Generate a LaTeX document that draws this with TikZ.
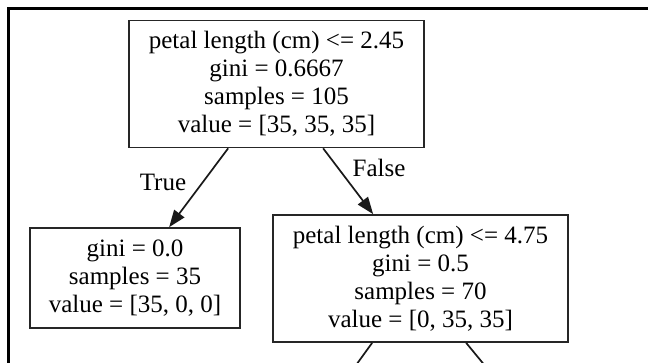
\documentclass[tikz,border=0pt]{standalone}
\usepackage{fontspec}
\setmainfont{Liberation Serif}
\usetikzlibrary{arrows.meta,calc}
\begin{document}
\begin{tikzpicture}[x=1pt,y=-1pt,
  treebox/.style={draw=black!85,line width=1.7pt,rectangle,inner sep=0pt,
    align=center,font=\fontsize{25}{28}\selectfont,text=black},
  edgelbl/.style={font=\fontsize{25}{28}\selectfont,text=black,inner sep=0pt},
  conn/.style={line width=1.7pt,draw=black!90},
  arr/.style={conn,-{Triangle[length=17pt,width=12.5pt]}}]
\useasboundingbox (0,0) rectangle (648,363);
\fill[white] (0,0) rectangle (648,363);
\clip (0,0) rectangle (648,363);
% frame
\draw[line width=3pt,black] (7,9) -- (648,9);
\draw[line width=3pt,black] (8,7.5) -- (8,363);
% nodes
\node[treebox,minimum width=295pt,minimum height=127pt] (root) at (276.5,84)
  {petal length (cm) <= 2.45\\ gini = 0.6667\\ samples = 105\\ value = [35, 35, 35]};
\node[treebox,minimum width=210pt,minimum height=100pt] (leaf) at (135,278)
  {gini = 0.0\\ samples = 35\\ value = [35, 0, 0]};
\node[treebox,minimum width=295pt,minimum height=127pt] (right) at (420.5,278.5)
  {petal length (cm) <= 4.75\\ gini = 0.5\\ samples = 70\\ value = [0, 35, 35]};
% edges
\draw[arr] ($(root.south west)+(100,0)$) -- ($(leaf.north west)+(140,0)$);
\draw[arr] ($(root.south west)+(195,0)$) -- ($(right.north west)+(101,0)$);
\coordinate (c1) at (352.5,370);
\coordinate (c2) at (488.5,370);
\draw[conn] ($(right.south west)+(100,0)$) -- (c1);
\draw[conn] ($(right.south west)+(194,0)$) -- (c2);
% labels
\node[edgelbl] (ltrue) at (163,182) {True};
\node[edgelbl] (lfalse) at (379,168) {False};
\end{tikzpicture}
\end{document}
